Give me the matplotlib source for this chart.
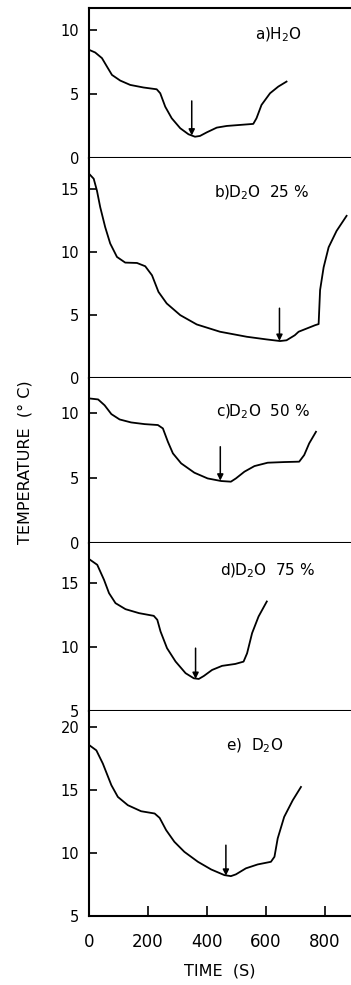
import matplotlib
matplotlib.use("Agg")
import matplotlib.pyplot as plt

# panel a) H2O
time_a = [0, 21, 44, 61, 78, 106, 140, 185, 230, 242, 259, 281, 310, 338, 360, 377, 400, 434, 468, 513, 558, 569, 586, 615, 643, 671]
temp_a = [8.44, 8.23, 7.79, 7.13, 6.48, 6.04, 5.7, 5.5, 5.36, 5.05, 4.0, 3.1, 2.32, 1.85, 1.66, 1.72, 2.0, 2.37, 2.5, 2.58, 2.66, 3.1, 4.14, 5.05, 5.57, 5.96]

# panel b) D2O 25 %
time_b = [0, 16, 27, 38, 55, 72, 95, 123, 163, 191, 214, 236, 264, 310, 366, 445, 536, 603, 649, 671, 699, 712, 768, 780, 785, 797, 814, 841, 875]
temp_b = [16.25, 15.85, 14.9, 13.6, 12.0, 10.7, 9.63, 9.18, 9.15, 8.89, 8.17, 6.85, 5.93, 5.0, 4.26, 3.68, 3.28, 3.07, 2.94, 3.0, 3.4, 3.68, 4.2, 4.29, 7.0, 8.8, 10.4, 11.7, 12.9]

# panel c) D2O 50 %
time_c = [0, 31, 53, 76, 104, 143, 189, 234, 251, 268, 285, 313, 358, 403, 449, 482, 499, 528, 562, 607, 663, 714, 731, 748, 771]
temp_c = [11.13, 11.05, 10.6, 9.92, 9.51, 9.28, 9.15, 9.08, 8.82, 7.79, 6.9, 6.13, 5.41, 4.97, 4.77, 4.72, 4.97, 5.49, 5.92, 6.18, 6.23, 6.26, 6.77, 7.67, 8.56]

# panel d) D2O 75 %
time_d = [0, 28, 51, 68, 90, 124, 170, 220, 232, 243, 265, 294, 328, 356, 373, 390, 418, 452, 497, 525, 537, 554, 576, 604]
temp_d = [16.85, 16.4, 15.23, 14.19, 13.41, 12.94, 12.63, 12.42, 12.11, 11.2, 9.9, 8.86, 7.95, 7.55, 7.5, 7.73, 8.2, 8.52, 8.67, 8.85, 9.5, 11.07, 12.37, 13.54]

# panel e) D2O
time_e = [0, 25, 47, 76, 98, 132, 177, 223, 240, 262, 290, 324, 370, 415, 460, 482, 499, 533, 573, 618, 630, 641, 663, 692, 720]
temp_e = [18.6, 18.17, 17.12, 15.4, 14.47, 13.81, 13.33, 13.15, 12.8, 11.83, 10.9, 10.1, 9.31, 8.7, 8.25, 8.17, 8.31, 8.79, 9.1, 9.31, 9.71, 11.17, 12.88, 14.2, 15.26]

labels = ["a)H$_2$O", "b)D$_2$O  25 %", "c)D$_2$O  50 %", "d)D$_2$O  75 %", "e)  D$_2$O"]
label_x = [644, 587, 590, 607, 563]
label_y = [9.6, 14.7, 10.1, 15.9, 18.5]

# arrows marking the minimum: time, top, tip
arrow_t = [349, 647, 446, 362, 465]
arrow_top = [4.45, 5.55, 7.41, 9.9, 10.63]
arrow_tip = [1.75, 2.95, 4.8, 7.5, 8.2]

y_ticks = [[0, 5, 10], [0, 5, 10, 15], [0, 5, 10], [5, 10, 15], [5, 10, 15, 20]]
y_lims = [(0, 11.7), (0, 17.5), (0, 12.7), (5, 18.1), (5, 21.3)]
x_ticks = [0, 200, 400, 600, 800]

# panel pixel extents (top, bottom) in a 985 px high figure
panel_px = [(8, 158), (158, 378), (378, 543), (543, 711), (711, 916)]

times = [time_a, time_b, time_c, time_d, time_e]
temps = [temp_a, temp_b, temp_c, temp_d, temp_e]

H = 985.0
W = 351.0
fig = plt.figure(figsize=(W / 100, H / 100), dpi=100)
left = 89 / W

axes = []
for i in range(5):
    top, bot = panel_px[i]
    ax = fig.add_axes([left, 1 - bot / H, 1 - left, (bot - top) / H])
    ax.plot(times[i], temps[i], color="k", lw=1.3, solid_joinstyle="round")
    ax.set_xlim(0, 890)
    ax.set_ylim(*y_lims[i])
    ax.set_yticks(y_ticks[i])
    ax.tick_params(axis="y", direction="in", length=6, width=1.2, pad=7, labelsize=10.5)
    ax.spines["right"].set_visible(False)
    if i > 0:
        ax.spines["top"].set_visible(False)
    for s in ["left", "bottom", "top"]:
        ax.spines[s].set_linewidth(1.5)
    ax.text(label_x[i], label_y[i], labels[i], ha="center", va="center", fontsize=11)
    ax.annotate("", xy=(arrow_t[i], arrow_tip[i]), xytext=(arrow_t[i], arrow_top[i]),
                arrowprops=dict(arrowstyle="-|>", color="k", lw=1.1, mutation_scale=9,
                                shrinkA=0, shrinkB=0))
    if i < 4:
        ax.set_xticks([])
    else:
        ax.set_xticks(x_ticks)
        ax.tick_params(axis="x", direction="in", length=7, width=1.2, pad=12, labelsize=12)
        ax.set_xlabel("TIME  (S)", fontsize=11.5, labelpad=9)
    axes.append(ax)

fig.text(25 / W, 1 - 462 / H, "TEMPERATURE  (° C)", rotation=90, ha="center", va="center", fontsize=11.5)

fig.savefig("out.png", dpi=100)
